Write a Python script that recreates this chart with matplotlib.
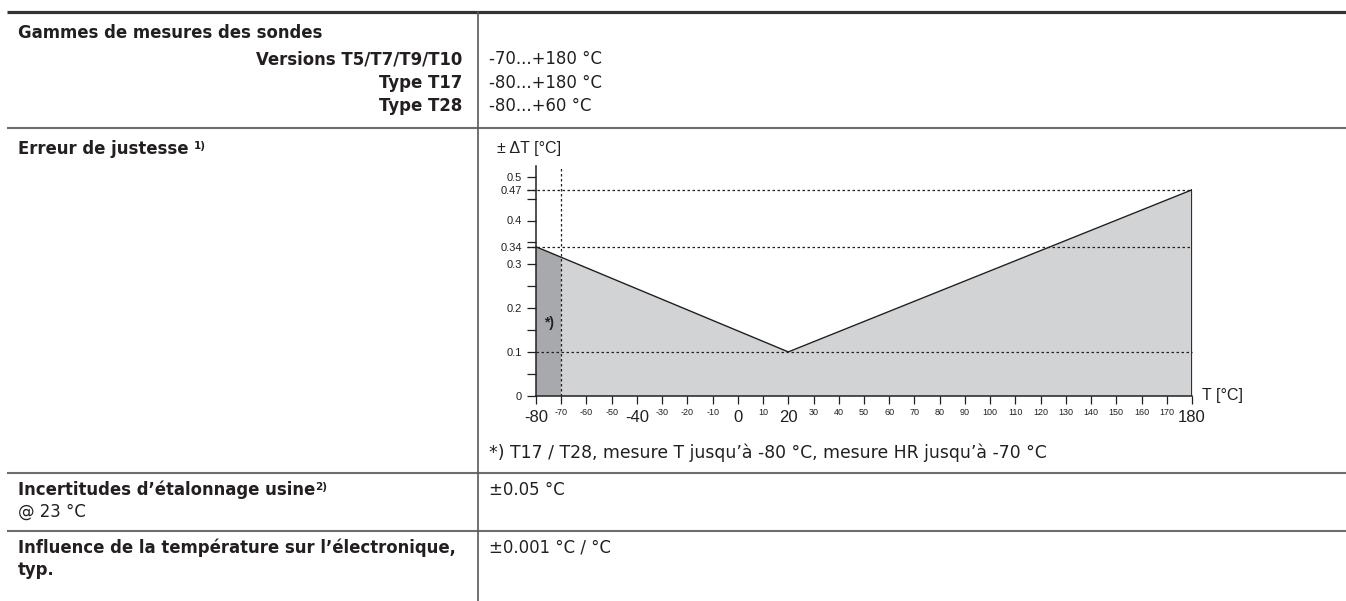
import numpy as np
import matplotlib.pyplot as plt

# accuracy curve (T in °C, ±ΔT in °C)
temps = [-80, 20, 180]
errors = [0.34, 0.10, 0.47]
ref_levels = [0.10, 0.34, 0.47]
t_hr_limit = -70

y_major = [0, 0.1, 0.2, 0.3, 0.4, 0.5, 0.34, 0.47]
y_major_labels = ['0', '0.1', '0.2', '0.3', '0.4', '0.5', '0.34', '0.47']
y_minor = [0.05, 0.15, 0.25, 0.35, 0.45]
x_big = [-80, -40, 0, 20, 180]
x_small = [-70, -60, -50, -30, -20, -10, 10, 30, 40, 50, 60, 70, 80, 90,
           100, 110, 120, 130, 140, 150, 160, 170]

range_title = 'Gammes de mesures des sondes'
range_names = ['Versions T5/T7/T9/T10', 'Type T17', 'Type T28']
range_values = ['-70...+180 °C', '-80...+180 °C', '-80...+60 °C']
footnote = '*) T17 / T28, mesure T jusqu’à -80 °C, mesure HR jusqu’à -70 °C'

TXT = '#231f20'
LIGHT = '#d1d3d4'
DARK = '#a7a9ac'
TFONT = 'DejaVu Sans'
CFONT = ['Liberation Sans', 'DejaVu Sans']
FS = 11.9

fig = plt.figure(figsize=(13.46, 6.01), dpi=100)

# ---- table layer, pixel coordinates ----
tab = fig.add_axes([0, 0, 1, 1])
tab.set_xlim(0, 1346)
tab.set_ylim(601, 0)
tab.axis('off')

tab.plot([7, 1346], [12, 12], color='#333333', lw=2.3, solid_capstyle='butt')
for y in [128, 473, 531]:
    tab.plot([7, 1346], [y, y], color='#6d6e71', lw=1.5, solid_capstyle='butt')
tab.plot([478, 478], [12, 601], color='#58595b', lw=1.2)

lx, rx, vx = 18, 462, 489
tab.text(lx, 38, range_title, fontsize=FS, fontweight='bold', family=TFONT,
         color=TXT, va='baseline')
for name, val, yb in zip(range_names, range_values, [64, 87.5, 111]):
    tab.text(rx, yb, name, fontsize=FS, fontweight='bold', family=TFONT,
             color=TXT, va='baseline', ha='right')
    tab.text(vx, yb, val, fontsize=FS, family=TFONT, color=TXT, va='baseline')

t = tab.text(lx, 154, 'Erreur de justesse ', fontsize=FS, fontweight='bold',
             family=TFONT, color=TXT, va='baseline')
tab.annotate('1)', xy=(1, 1), xycoords=t, xytext=(0, -1), textcoords='offset points',
             fontsize=7.5, fontweight='bold', family=TFONT, color=TXT, va='top')

tab.text(vx, 458, footnote, fontsize=12.4, family=TFONT, color=TXT, va='baseline')

t = tab.text(lx, 495, 'Incertitudes d’étalonnage usine', fontsize=FS,
             fontweight='bold', family=TFONT, color=TXT, va='baseline')
tab.annotate('2)', xy=(1, 1), xycoords=t, xytext=(0, -1), textcoords='offset points',
             fontsize=7.5, fontweight='bold', family=TFONT, color=TXT, va='top')
tab.text(lx, 517, '@ 23 °C', fontsize=FS, family=TFONT, color=TXT, va='baseline')
tab.text(vx, 495, '±0.05 °C', fontsize=FS, family=TFONT, color=TXT, va='baseline')

tab.text(lx, 553, 'Influence de la température sur l’électronique,', fontsize=FS,
         fontweight='bold', family=TFONT, color=TXT, va='baseline')
tab.text(lx, 575, 'typ.', fontsize=FS, fontweight='bold', family=TFONT,
         color=TXT, va='baseline')
tab.text(vx, 553, '±0.001 °C / °C', fontsize=FS, family=TFONT, color=TXT,
         va='baseline')

# ---- chart ----
x0, x1, y0, ppu = 536, 1192, 395.7, 438
ytop = 0.525
ax = fig.add_axes([x0 / 1346, (601 - y0) / 601, (x1 - x0) / 1346, ytop * ppu / 601])
ax.set_xlim(temps[0], temps[-1])
ax.set_ylim(0, ytop)
ax.patch.set_alpha(0)

poly = ax.fill_between(temps, errors, color=LIGHT, lw=0, zorder=1)
dark = ax.axvspan(temps[0], t_hr_limit, color=DARK, lw=0, zorder=1.5)
dark.set_clip_path(poly.get_paths()[0], ax.transData)
ax.plot(temps, errors, color=TXT, lw=1.0, zorder=3)
ax.plot([temps[-1], temps[-1]], [0, errors[-1]], color=TXT, lw=1.3, zorder=3)

for lvl in ref_levels:
    start = temps[0] if lvl == ref_levels[0] else temps[0] - 3.6
    ax.plot([start, temps[-1]], [lvl, lvl], color=TXT, lw=0.9, ls=(0, (2, 2)),
            zorder=2, clip_on=False)
ax.plot([t_hr_limit, t_hr_limit], [0, ytop], color=TXT, lw=0.9, ls=(0, (2, 2)),
        zorder=2)

for s in ['top', 'right']:
    ax.spines[s].set_visible(False)
for s in ['left', 'bottom']:
    ax.spines[s].set_color(TXT)
    ax.spines[s].set_linewidth(1.1)
    ax.spines[s].set_zorder(4)

ax.set_xticks(x_big, [str(v) for v in x_big])
ax.set_xticks(x_small, [str(v) for v in x_small], minor=True)
ax.tick_params(axis='x', which='major', length=6, width=0.9, color=TXT, pad=4.5,
               labelsize=12, labelcolor=TXT)
ax.tick_params(axis='x', which='minor', length=6, width=0.9, color=TXT, pad=2.8,
               labelsize=6.5, labelcolor=TXT)
ax.set_yticks(y_major, y_major_labels)
ax.set_yticks(y_minor, minor=True)
ax.tick_params(axis='y', which='both', length=6.5, width=0.9, color=TXT, pad=3.6,
               labelsize=8, labelcolor=TXT)
for lab in ax.get_xticklabels(which='both') + ax.get_yticklabels():
    lab.set_family(CFONT)

ax.text(-95.5, 0.565, '± ΔT [°C]', fontsize=11.5, family=CFONT, color=TXT,
        va='center', ha='left')
ax.annotate('T [°C]', xy=(temps[-1], 0), xytext=(7, 0), textcoords='offset points',
            fontsize=11.5, family=CFONT, color=TXT, va='center', ha='left',
            annotation_clip=False)
ax.text(-74.8, 0.166, '*)', fontsize=10, fontweight='bold', family=CFONT,
        color=TXT, ha='center', va='center')

fig.savefig('out.png', dpi=100)
